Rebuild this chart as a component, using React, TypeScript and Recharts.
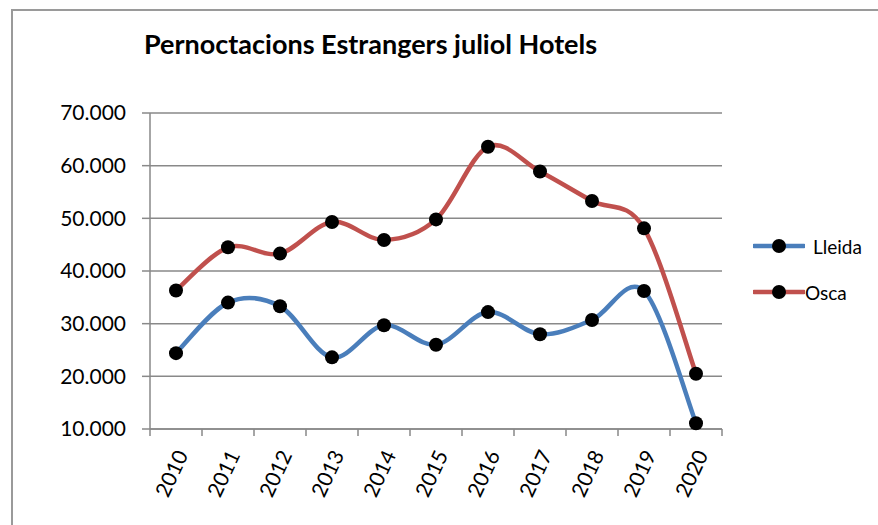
import React from 'react';
import { LineChart, Line, XAxis, YAxis, CartesianGrid } from 'recharts';

const years = ['2010', '2011', '2012', '2013', '2014', '2015', '2016', '2017', '2018', '2019', '2020'];
const lleida = [24400, 34000, 33300, 23600, 29700, 26000, 32200, 28000, 30700, 36200, 11100];
const osca = [36300, 44500, 43300, 49300, 45900, 49800, 63600, 58900, 53300, 48100, 20500];
const yTicks = [10000, 20000, 30000, 40000, 50000, 60000, 70000];
const seriesNames = ['Lleida', 'Osca'];
const seriesColors = ['#4A7EBB', '#C0504D'];
const title = 'Pernoctacions Estrangers juliol Hotels';

const data = years.map((y, i) => ({ idx: i, year: y, Lleida: lleida[i], Osca: osca[i] }));
const labelTicks = years.map((_, i) => i);
const boundaryTicks = [...years.map((_, i) => i - 0.5), years.length - 0.5];

const FONT = 'Lato, "Open Sans", sans-serif';
const GRAY = '#898989';

const fmt = (n: number) => `${Math.floor(n / 1000)}.${String(n % 1000).padStart(3, '0')}`;

// Excel-like smoothed line (Catmull-Rom style Bezier)
const excelCurve = (context: any) => {
  let pts: [number, number][] = [];
  return {
    areaStart() {},
    areaEnd() {},
    lineStart() {
      pts = [];
    },
    lineEnd() {
      const n = pts.length;
      if (!n) return;
      context.moveTo(pts[0][0], pts[0][1]);
      const t = 1 / 6;
      for (let i = 0; i < n - 1; i++) {
        const p0 = pts[Math.max(0, i - 1)];
        const p1 = pts[i];
        const p2 = pts[i + 1];
        const p3 = pts[Math.min(n - 1, i + 2)];
        context.bezierCurveTo(
          p1[0] + (p2[0] - p0[0]) * t,
          p1[1] + (p2[1] - p0[1]) * t,
          p2[0] - (p3[0] - p1[0]) * t,
          p2[1] - (p3[1] - p1[1]) * t,
          p2[0],
          p2[1]
        );
      }
    },
    point(x: number, y: number) {
      pts.push([+x, +y]);
    },
  };
};

const YearTick = (props: any) => {
  const { x, y, payload } = props;
  const tx = x + 5;
  const ty = y + 14;
  return (
    <text
      x={tx}
      y={ty}
      transform={`rotate(-65, ${tx}, ${ty})`}
      textAnchor="end"
      dominantBaseline="central"
      fontFamily={FONT}
      fontSize={21}
      fill="#000"
    >
      {years[payload.value]}
    </text>
  );
};

const EmptyTick = () => <g />;

const Dot = (props: any) => {
  const { cx, cy } = props;
  if (cx == null || cy == null) return null;
  return <circle cx={cx} cy={cy} r={7} fill="#000" />;
};

export default function App() {
  return (
    <div style={{ position: 'absolute', left: 0, top: 0, width: 878, height: 525, background: '#fff', overflow: 'hidden' }}>
      <div
        style={{
          position: 'absolute',
          left: 11,
          top: 9,
          width: 878,
          height: 530,
          borderTop: '2px solid #9a9a9a',
          borderLeft: '2px solid #9a9a9a',
        }}
      />
      <div
        style={{
          position: 'absolute',
          left: 144,
          top: 27,
          fontFamily: FONT,
          fontWeight: 'bold',
          fontSize: 27,
          color: '#000',
          whiteSpace: 'nowrap',
        }}
      >
        {title}
      </div>
      <div style={{ position: 'absolute', left: 0, top: 0 }}>
        <LineChart width={878} height={525} data={data} margin={{ top: 113, right: 156, bottom: 6, left: 0 }}>
          <CartesianGrid horizontal vertical={false} stroke={GRAY} strokeWidth={1.5} />
          <XAxis
            dataKey="idx"
            type="number"
            domain={[-0.5, years.length - 0.5]}
            ticks={boundaryTicks}
            tick={<EmptyTick />}
            tickSize={7}
            tickLine={{ stroke: GRAY, strokeWidth: 1.5 }}
            axisLine={{ stroke: GRAY, strokeWidth: 1.5 }}
            height={8}
            interval={0}
            allowDataOverflow
          />
          <XAxis
            xAxisId="labels"
            dataKey="idx"
            type="number"
            domain={[-0.5, years.length - 0.5]}
            ticks={labelTicks}
            tick={<YearTick />}
            tickLine={false}
            axisLine={false}
            tickSize={0}
            tickMargin={0}
            height={82}
            interval={0}
            allowDataOverflow
          />
          <YAxis
            domain={[10000, 70000]}
            ticks={yTicks}
            tickFormatter={fmt}
            width={150}
            tickSize={8}
            tickMargin={16}
            tickLine={{ stroke: GRAY, strokeWidth: 1.5 }}
            axisLine={{ stroke: GRAY, strokeWidth: 1.5 }}
            tick={{ fontFamily: FONT, fontSize: 21, fill: '#000' }}
            interval={0}
          />
          {seriesNames.map((name, i) => (
            <Line
              key={name}
              dataKey={name}
              type={excelCurve as any}
              stroke={seriesColors[i]}
              strokeWidth={4.5}
              dot={<Dot />}
              activeDot={false}
              isAnimationActive={false}
            />
          ))}
        </LineChart>
      </div>
      {seriesNames.map((name, i) => (
        <div
          key={name}
          style={{
            position: 'absolute',
            left: 753,
            top: 246 + i * 46 - 12,
            height: 24,
            display: 'flex',
            alignItems: 'center',
            fontFamily: FONT,
            fontSize: 19,
            color: '#000',
          }}
        >
          <svg width={52} height={24} style={{ display: 'block' }}>
            <line x1={1} y1={12} x2={51} y2={12} stroke={seriesColors[i]} strokeWidth={4.5} strokeLinecap="round" />
            <circle cx={26} cy={12} r={7} fill="#000" />
          </svg>
          <span style={{ marginLeft: i === 0 ? 8 : 0 }}>{name}</span>
        </div>
      ))}
    </div>
  );
}
